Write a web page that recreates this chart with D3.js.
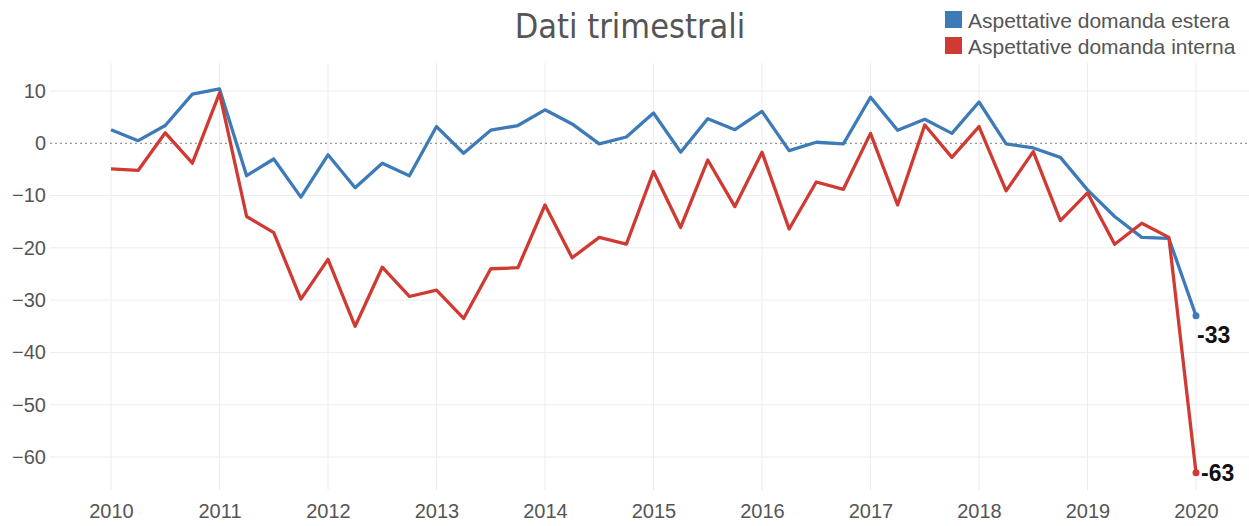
<!DOCTYPE html>
<html>
<head>
<meta charset="utf-8">
<script src="https://cdn.jsdelivr.net/npm/d3@7"></script>
<style>
  body { margin: 0; background: #fff; }
  svg { display: block; }
  .grid line { stroke: #ececec; stroke-width: 1; }
  .grid path { display: none; }
  .axis path { display: none; }
  .axis line { stroke: #ddd; }
  .axis text { font-family: "Liberation Sans", Arial, sans-serif; font-size: 20px; fill: #555; }
</style>
</head>
<body>
<svg width="1249" height="526"></svg>
<script>
const years = [2010, 2011, 2012, 2013, 2014, 2015, 2016, 2017, 2018, 2019, 2020];
const yTicks = [10, 0, -10, -20, -30, -40, -50, -60];

// quarterly values, 2010Q1 .. 2020Q1
const estera = [
  2.6, 0.5, 3.4, 9.4,
  10.4, -6.2, -3.0, -10.3,
  -2.2, -8.5, -3.8, -6.2,
  3.2, -1.9, 2.5, 3.4,
  6.4, 3.7, -0.1, 1.2,
  5.8, -1.7, 4.7, 2.6,
  6.1, -1.4, 0.2, -0.1,
  8.8, 2.5, 4.6, 1.9,
  7.9, -0.1, -0.9, -2.7,
  -8.9, -14.0, -18.0, -18.2,
  -33
];
const interna = [
  -4.9, -5.2, 2.0, -3.8,
  9.6, -14.0, -17.1, -29.8,
  -22.2, -35.0, -23.7, -29.3,
  -28.1, -33.5, -24.0, -23.8,
  -11.8, -21.9, -18.0, -19.3,
  -5.4, -16.1, -3.2, -12.1,
  -1.7, -16.4, -7.4, -8.8,
  1.9, -11.8, 3.5, -2.7,
  3.2, -9.1, -1.6, -14.8,
  -9.5, -19.3, -15.3, -18.0,
  -63
];

const seriesNames = ['Aspettative domanda estera', 'Aspettative domanda interna'];
const colors = ['#3d7ab8', '#cf3a33'];

const svg = d3.select('svg');

const x = d3.scaleLinear()
  .domain([2010, 2020])
  .range([111, 1196]);

const y = d3.scaleLinear()
  .domain([-60, 10])
  .range([457, 91]);

const gLeft = 50, gRight = 1249, gTop = 63, gBottom = 490;

// horizontal grid
svg.append('g')
  .attr('class', 'grid')
  .selectAll('line')
  .data(yTicks.filter(d => d !== 0))
  .join('line')
  .attr('x1', gLeft).attr('x2', gRight)
  .attr('y1', d => y(d)).attr('y2', d => y(d));

// vertical grid
svg.append('g')
  .attr('class', 'grid')
  .selectAll('line')
  .data(years)
  .join('line')
  .attr('x1', d => x(d)).attr('x2', d => x(d))
  .attr('y1', gTop).attr('y2', gBottom);

// zero line dotted
svg.append('line')
  .attr('x1', gLeft).attr('x2', gRight)
  .attr('y1', y(0)).attr('y2', y(0))
  .attr('stroke', '#999')
  .attr('stroke-width', 1.2)
  .attr('stroke-dasharray', '2,3');

// y axis labels
svg.append('g')
  .attr('class', 'axis')
  .attr('transform', `translate(${gLeft - 4},0)`)
  .call(d3.axisLeft(y).tickValues(yTicks).tickSize(0).tickPadding(0));

// x axis labels
svg.append('g')
  .attr('class', 'axis')
  .attr('transform', `translate(0,${gBottom})`)
  .call(d3.axisBottom(x).tickValues(years).tickFormat(d3.format('d')).tickSize(0).tickPadding(14));

const line = d3.line()
  .x((d, i) => x(2010 + i / 4))
  .y(d => y(d));

[estera, interna].forEach((s, k) => {
  svg.append('path')
    .datum(s)
    .attr('fill', 'none')
    .attr('stroke', colors[k])
    .attr('stroke-width', 3.3)
    .attr('stroke-linejoin', 'round')
    .attr('d', line);

  const last = s.length - 1;
  svg.append('circle')
    .attr('cx', x(2010 + last / 4))
    .attr('cy', y(s[last]))
    .attr('r', 3.5)
    .attr('fill', colors[k]);
});

// end labels
svg.append('text')
  .attr('x', x(2020) + 1)
  .attr('y', y(estera[estera.length - 1]) + 27)
  .attr('font-family', '"Liberation Sans Narrow", "Arial Narrow", "Liberation Sans", sans-serif')
  .attr('font-weight', 'bold')
  .attr('font-size', 23)
  .attr('fill', '#111')
  .text(estera[estera.length - 1]);

svg.append('text')
  .attr('x', x(2020) + 5)
  .attr('y', y(interna[interna.length - 1]) + 8)
  .attr('font-family', '"Liberation Sans Narrow", "Arial Narrow", "Liberation Sans", sans-serif')
  .attr('font-weight', 'bold')
  .attr('font-size', 23)
  .attr('fill', '#111')
  .text(interna[interna.length - 1]);

// title
svg.append('text')
  .attr('x', 630)
  .attr('y', 38)
  .attr('text-anchor', 'middle')
  .attr('font-family', '"DejaVu Sans Condensed", "DejaVu Sans", sans-serif')
  .attr('font-size', 34)
  .attr('fill', '#555')
  .text('Dati trimestrali');

// legend
const legend = svg.append('g').attr('transform', 'translate(945,11)');
seriesNames.forEach((n, i) => {
  legend.append('rect')
    .attr('x', 0).attr('y', i * 26)
    .attr('width', 17).attr('height', 17)
    .attr('fill', colors[i]);
  legend.append('text')
    .attr('x', 23).attr('y', i * 26 + 17)
    .attr('font-family', '"Liberation Sans", Arial, sans-serif')
    .attr('font-size', 21)
    .attr('textLength', null)
    .attr('fill', '#555')
    .text(n);
});
</script>
</body>
</html>
